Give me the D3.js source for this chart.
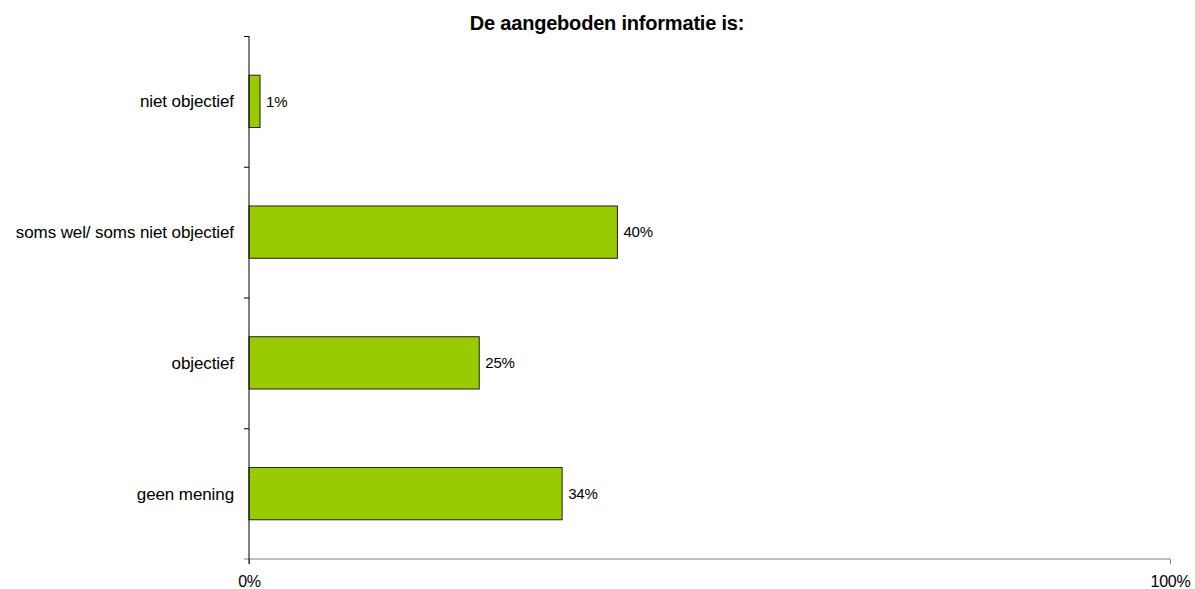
<!DOCTYPE html>
<html>
<head>
<meta charset="utf-8">
<script src="https://cdn.jsdelivr.net/npm/d3@7"></script>
<style>
  body { margin: 0; background: #fff; }
  svg text { font-family: "Liberation Sans", Arial, sans-serif; fill: #000; }
</style>
</head>
<body>
<svg id="chart" width="1195" height="589"></svg>
<script>
const title = "De aangeboden informatie is:";
const categories = ["niet objectief", "soms wel/ soms niet objectief", "objectief", "geen mening"];
const values = [1.2, 40, 25, 34];
const valueLabels = ["1%", "40%", "25%", "34%"];
const xTicks = [0, 100];

const margin = { top: 36, right: 25, bottom: 30, left: 249 };
const width = 1195 - margin.left - margin.right;   // 0..100% spans to x=1170
const height = 589 - margin.top - margin.bottom;   // axis at y=559

const svg = d3.select("#chart");
const g = svg.append("g").attr("transform", `translate(${margin.left},${margin.top})`);

// title
svg.append("text")
  .attr("x", 607)
  .attr("y", 30)
  .attr("text-anchor", "middle")
  .style("font-size", "20px")
  .style("font-weight", "bold")
  .style("letter-spacing", "-0.2px")
  .text(title);

const x = d3.scaleLinear().domain([0, 100]).range([0, width]);
const y = d3.scaleBand()
  .domain(categories)
  .range([0, height])
  .paddingInner(0.6)
  .paddingOuter(0.3);

// bars
g.selectAll("rect.bar")
  .data(categories)
  .enter()
  .append("rect")
  .attr("class", "bar")
  .attr("x", x(0))
  .attr("y", d => y(d))
  .attr("width", (d, i) => x(values[i]) - x(0))
  .attr("height", y.bandwidth())
  .attr("fill", "#99cc00")
  .attr("stroke", "#222")
  .attr("stroke-width", 1);

// value labels
g.selectAll("text.val")
  .data(categories)
  .enter()
  .append("text")
  .attr("class", "val")
  .attr("x", (d, i) => x(values[i]) + 6)
  .attr("y", d => y(d) + y.bandwidth() / 2)
  .attr("dy", "0.35em")
  .style("font-size", "15px")
  .style("letter-spacing", "-0.2px")
  .text((d, i) => valueLabels[i]);

// x axis (gray)
const xAxis = g.append("g")
  .attr("transform", `translate(0,${height})`)
  .call(d3.axisBottom(x).tickValues(xTicks).tickSize(5).tickSizeOuter(0).tickFormat(d => d + "%"));
xAxis.select(".domain").attr("stroke", "#808080").attr("d", `M-5,0H${width}`);
xAxis.selectAll(".tick line").attr("stroke", "#808080");
xAxis.selectAll(".tick text")
  .attr("y", 28)
  .attr("dy", null)
  .style("font-family", "Liberation Sans, Arial, sans-serif")
  .style("font-size", "16px")
  .style("letter-spacing", "-0.2px");

// y axis (black), ticks at band boundaries
const yLine = d3.scaleLinear().domain([0, categories.length]).range([0, height]);
const yAxis = g.append("g")
  .call(d3.axisLeft(yLine).ticks(categories.length).tickSize(5).tickSizeOuter(0).tickFormat(""));
yAxis.select(".domain").attr("stroke", "#000").attr("d", `M0,0V${height + 5}`);
yAxis.selectAll(".tick").filter(d => d === categories.length).remove();
yAxis.selectAll(".tick line").attr("stroke", "#000");

// category labels
g.selectAll("text.cat")
  .data(categories)
  .enter()
  .append("text")
  .attr("class", "cat")
  .attr("x", -15)
  .attr("y", d => y(d) + y.bandwidth() / 2)
  .attr("dy", "0.35em")
  .attr("text-anchor", "end")
  .style("font-size", "17px")
  .style("letter-spacing", "-0.1px")
  .text(d => d);
</script>
</body>
</html>
